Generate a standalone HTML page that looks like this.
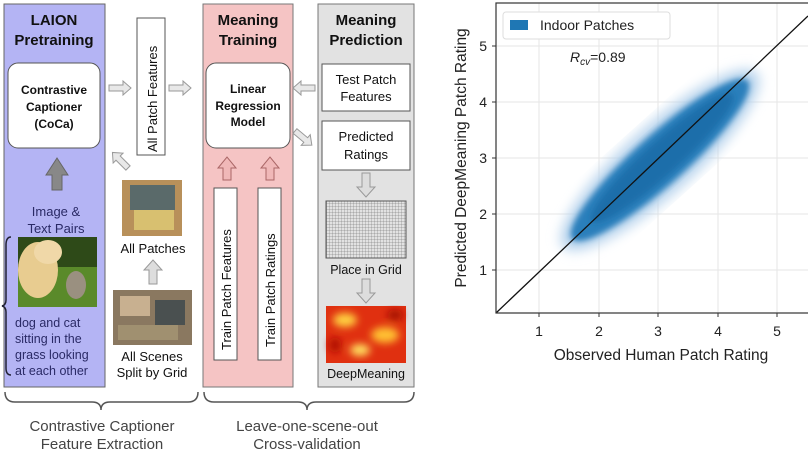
<!DOCTYPE html>
<html><head><meta charset="utf-8"><style>
body{margin:0;background:#fff;width:808px;height:455px;overflow:hidden;font-family:"Liberation Sans",sans-serif}
</style></head><body>
<svg width="808" height="455" viewBox="0 0 808 455" font-family="Liberation Sans, sans-serif">
<defs>
<filter id="b1"><feGaussianBlur stdDeviation="6"/></filter>
<filter id="b2"><feGaussianBlur stdDeviation="3"/></filter>
<filter id="b3"><feGaussianBlur stdDeviation="4"/></filter>
<pattern id="grd" width="3" height="3" patternUnits="userSpaceOnUse"><path d="M3 0V3H0" fill="none" stroke="#666" stroke-width="0.5"/></pattern>
<g id="arR"><path d="M0,-3 L14,-3 L14,-7 L22,0 L14,7 L14,3 L0,3Z" fill="#e8e8e8" stroke="#999" stroke-width="1"/></g>
<g id="arU"><path d="M-4,0 L-4,-14 L-9,-14 L0,-24 L9,-14 L4,-14 L4,0Z" fill="#ddd" stroke="#999" stroke-width="1"/></g>
</defs>
<rect x="4" y="4" width="101" height="383" fill="#b4b4f4" stroke="#666" stroke-width="1"/>
<rect x="203" y="4" width="90" height="383" fill="#f5c4c4" stroke="#777" stroke-width="1"/>
<rect x="318" y="4" width="96" height="383" fill="#e2e2e2" stroke="#777" stroke-width="1"/>
<g font-weight="bold" font-size="15" text-anchor="middle" fill="#111">
<text x="54" y="25">LAION</text><text x="54" y="45">Pretraining</text>
<text x="248" y="25">Meaning</text><text x="248" y="45">Training</text>
<text x="366" y="25">Meaning</text><text x="366" y="45">Prediction</text>
</g>
<rect x="8" y="63" width="92" height="85" rx="10" fill="#fff" stroke="#555"/>
<g font-weight="bold" font-size="12" text-anchor="middle" fill="#111">
<text x="54" y="94">Contrastive</text><text x="54" y="111">Captioner</text><text x="54" y="128">(CoCa)</text>
</g>
<rect x="206" y="63" width="84" height="85" rx="10" fill="#fff" stroke="#555"/>
<g font-weight="bold" font-size="12" text-anchor="middle" fill="#111">
<text x="248" y="93">Linear</text><text x="248" y="110">Regression</text><text x="248" y="126">Model</text>
</g>
<path d="M52,190 L52,175 L46,175 L57,158 L68,175 L62,175 L62,190Z" fill="#888" stroke="#666"/>
<g font-size="13" text-anchor="middle" fill="#2a2a66"><text x="56" y="216">Image &amp;</text><text x="56" y="233">Text Pairs</text></g>
<rect x="18" y="237" width="79" height="70" fill="#5a8a2a"/>
<rect x="18" y="237" width="79" height="30" fill="#2e4a18"/>
<ellipse cx="38" cy="270" rx="20" ry="28" fill="#e8cc90"/>
<ellipse cx="48" cy="252" rx="14" ry="12" fill="#f0d8a8"/>
<ellipse cx="76" cy="285" rx="10" ry="14" fill="#9a9080"/>
<path d="M11,237 Q6,237 6,245 L6,300 Q6,305 2,306 Q6,307 6,312 L6,368 Q6,375 11,375" fill="none" stroke="#223" stroke-width="1.5"/>
<g font-size="12.5" fill="#2a2a66"><text x="15" y="327">dog and cat</text><text x="15" y="343">sitting in the</text><text x="15" y="359">grass looking</text><text x="15" y="375">at each other</text></g>
<rect x="137" y="18" width="28" height="137" fill="#fff" stroke="#555"/>
<text transform="translate(157,152) rotate(-90)" font-size="13" fill="#111">All Patch Features</text>
<use href="#arR" x="109" y="88"/><use href="#arR" x="169" y="88"/>
<use href="#arR" transform="translate(128,168) rotate(-135)"/>
<rect x="122" y="180" width="60" height="56" fill="#b8905a"/>
<rect x="130" y="185" width="45" height="25" fill="#5a6a6a"/>
<rect x="134" y="210" width="40" height="20" fill="#d8c070"/>
<text x="153" y="253" font-size="13" text-anchor="middle" fill="#111">All Patches</text>
<use href="#arU" x="153" y="284"/>
<rect x="113" y="290" width="79" height="55" fill="#8a7860"/>
<rect x="120" y="296" width="30" height="20" fill="#c8b090"/><rect x="155" y="300" width="30" height="25" fill="#4a5050"/>
<rect x="118" y="325" width="60" height="15" fill="#a09070"/>
<g font-size="13" text-anchor="middle" fill="#111"><text x="152" y="361">All Scenes</text><text x="152" y="377">Split by Grid</text></g>
<path d="M223,180 L223,168 L218,168 L227,157 L236,168 L231,168 L231,180Z" fill="#f0b8b8" stroke="#a66"/>
<path d="M266,180 L266,168 L261,168 L270,157 L279,168 L274,168 L274,180Z" fill="#f0b8b8" stroke="#a66"/>
<rect x="214" y="188" width="23" height="172" fill="#fff" stroke="#555"/>
<rect x="258" y="188" width="23" height="172" fill="#fff" stroke="#555"/>
<text transform="translate(231,350) rotate(-90)" font-size="13" fill="#111">Train Patch Features</text>
<text transform="translate(275,347) rotate(-90)" font-size="13" fill="#111">Train Patch Ratings</text>
<rect x="322" y="64" width="88" height="47" fill="#fff" stroke="#555"/>
<rect x="322" y="121" width="88" height="49" fill="#fff" stroke="#555"/>
<g font-size="13" text-anchor="middle" fill="#111"><text x="366" y="84">Test Patch</text><text x="366" y="101">Features</text><text x="366" y="141">Predicted</text><text x="366" y="159">Ratings</text></g>
<use href="#arR" transform="translate(315,88) rotate(180)"/>
<use href="#arR" transform="translate(295,131) rotate(40)"/>
<use href="#arU" transform="translate(366,173) rotate(180)"/>
<rect x="326" y="201" width="80" height="57" fill="url(#grd)" stroke="#555"/>
<text x="366" y="274" font-size="12.5" text-anchor="middle" fill="#111">Place in Grid</text>
<use href="#arU" transform="translate(366,279) rotate(180)"/>
<rect x="326" y="306" width="80" height="57" fill="#e03010"/>
<g filter="url(#b3)"><ellipse cx="345" cy="320" rx="12" ry="7" fill="#ffd040"/><ellipse cx="385" cy="335" rx="14" ry="8" fill="#ffc030"/><ellipse cx="360" cy="350" rx="10" ry="6" fill="#ffe060"/><ellipse cx="395" cy="315" rx="8" ry="5" fill="#a01000"/><ellipse cx="335" cy="345" rx="6" ry="8" fill="#b01000"/></g>
<text x="366" y="378" font-size="12.5" text-anchor="middle" fill="#111">DeepMeaning</text>
<path d="M5,392 Q5,402 15,402 L92,402 Q101,402 101,410 Q101,402 110,402 L188,402 Q198,402 198,392" fill="none" stroke="#555" stroke-width="1.5"/>
<path d="M204,392 Q204,402 214,402 L298,402 Q307,402 307,410 Q307,402 316,402 L404,402 Q414,402 414,392" fill="none" stroke="#555" stroke-width="1.5"/>
<g font-size="15" text-anchor="middle" fill="#444"><text x="102" y="431">Contrastive Captioner</text><text x="102" y="449">Feature Extraction</text><text x="307" y="431">Leave-one-scene-out</text><text x="307" y="449">Cross-validation</text></g>
<g stroke="#e6e6e6" stroke-width="1">
<line x1="539" y1="3" x2="539" y2="313"/><line x1="599" y1="3" x2="599" y2="313"/><line x1="658" y1="3" x2="658" y2="313"/><line x1="718" y1="3" x2="718" y2="313"/><line x1="777" y1="3" x2="777" y2="313"/>
<line x1="496" y1="46" x2="808" y2="46"/><line x1="496" y1="102" x2="808" y2="102"/><line x1="496" y1="158" x2="808" y2="158"/><line x1="496" y1="214" x2="808" y2="214"/><line x1="496" y1="270" x2="808" y2="270"/>
</g>
<g transform="translate(660,160) rotate(-42)">
<ellipse cx="0" cy="0" rx="130" ry="34" fill="#b5d2ec" filter="url(#b1)"/>
<ellipse cx="0" cy="0" rx="118" ry="25" fill="#2a7fbb" filter="url(#b2)"/>
<ellipse cx="3" cy="0" rx="95" ry="17" fill="#1b6eaa" filter="url(#b2)"/>
</g>
<line x1="496" y1="313" x2="808" y2="16" stroke="#111" stroke-width="1.3"/>
<rect x="496" y="3" width="320" height="310" fill="none" stroke="#333" stroke-width="1.2"/>
<rect x="503" y="12" width="167" height="27" rx="3" fill="#fff" stroke="#ddd"/>
<rect x="510" y="20" width="18" height="10" fill="#1f77b4"/>
<text x="540" y="30" font-size="14" fill="#222">Indoor Patches</text>
<text x="570" y="62" font-size="14" fill="#222"><tspan font-style="italic">R</tspan><tspan font-style="italic" font-size="10" dy="3">cv</tspan><tspan dy="-3">=0.89</tspan></text>
<g stroke="#333"><line x1="539" y1="313" x2="539" y2="317"/><line x1="599" y1="313" x2="599" y2="317"/><line x1="658" y1="313" x2="658" y2="317"/><line x1="718" y1="313" x2="718" y2="317"/><line x1="777" y1="313" x2="777" y2="317"/>
<line x1="492" y1="46" x2="496" y2="46"/><line x1="492" y1="102" x2="496" y2="102"/><line x1="492" y1="158" x2="496" y2="158"/><line x1="492" y1="214" x2="496" y2="214"/><line x1="492" y1="270" x2="496" y2="270"/></g>
<g font-size="14" fill="#222" text-anchor="middle"><text x="539" y="336">1</text><text x="599" y="336">2</text><text x="658" y="336">3</text><text x="718" y="336">4</text><text x="777" y="336">5</text></g>
<g font-size="14" fill="#222" text-anchor="end"><text x="487" y="51">5</text><text x="487" y="107">4</text><text x="487" y="163">3</text><text x="487" y="219">2</text><text x="487" y="275">1</text></g>
<text x="661" y="360" font-size="15.5" text-anchor="middle" fill="#222">Observed Human Patch Rating</text>
<text transform="translate(466,158) rotate(-90)" font-size="15.5" text-anchor="middle" fill="#222">Predicted DeepMeaning Patch Rating</text>
</svg>
</body></html>
